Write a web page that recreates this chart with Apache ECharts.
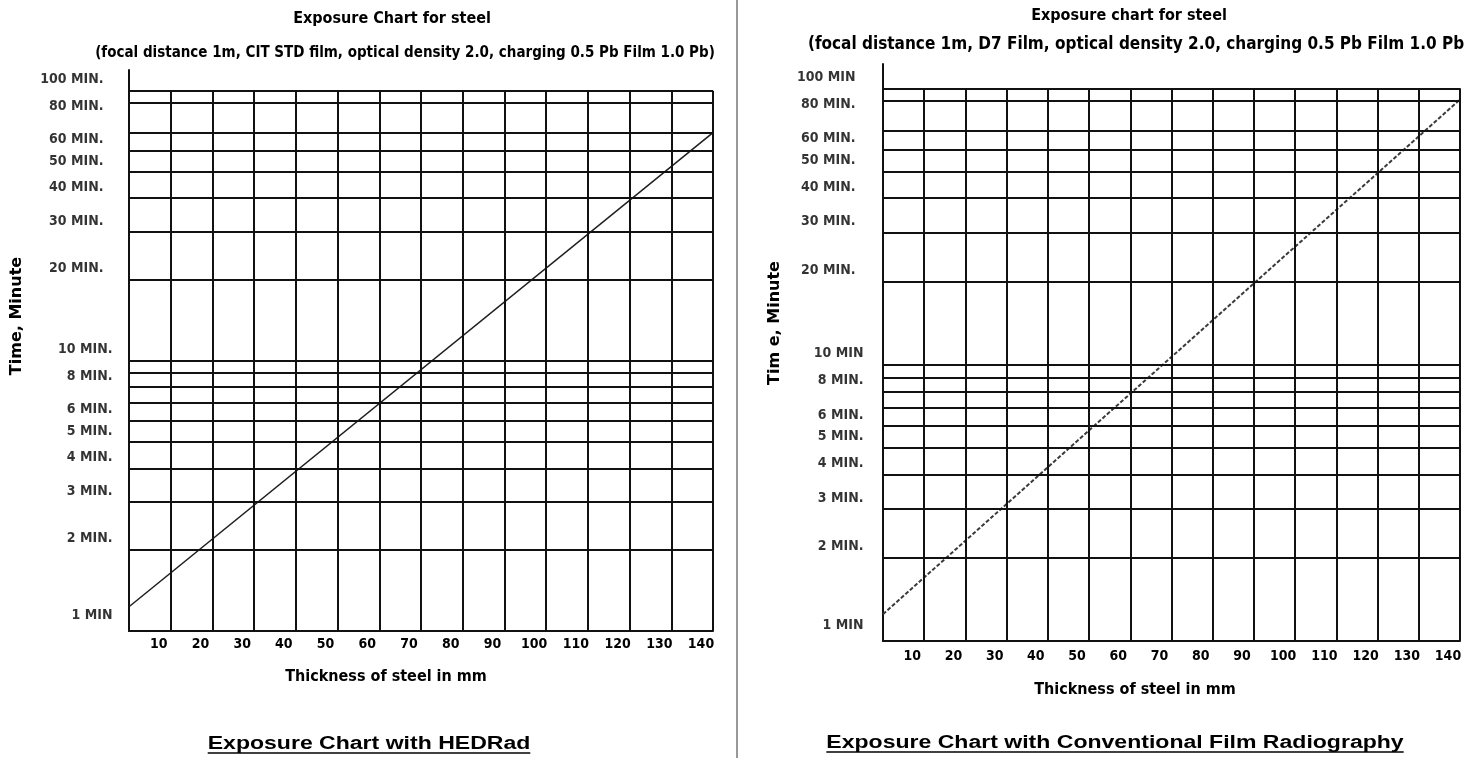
<!DOCTYPE html>
<html>
<head>
<meta charset="utf-8">
<script src="https://cdn.jsdelivr.net/npm/echarts@6/dist/echarts.min.js"></script>
<style>
  html, body { margin: 0; padding: 0; background: #fff; }
  #main { width: 1482px; height: 758px; }
</style>
</head>
<body>
<div id="main"></div>
<script>
// Thickness of steel (mm) at each vertical rule
const thicknessRules = [10, 20, 30, 40, 50, 60, 70, 80, 90, 100, 110, 120, 130, 140];
// Exposure time (min) at each horizontal rule
const minuteRules = [2, 3, 4, 5, 6, 7, 8, 9, 10, 20, 30, 40, 50, 60, 70, 90, 100];
// Time labels on the left of each chart
const minuteLabelValues = [1, 2, 3, 4, 5, 6, 8, 10, 20, 30, 40, 50, 60, 80, 100];
const hedradMinuteLabels = ['1 MIN', '2 MIN.', '3 MIN.', '4 MIN.', '5 MIN.', '6 MIN.', '8 MIN.', '10 MIN.',
  '20 MIN.', '30 MIN.', '40 MIN.', '50 MIN.', '60 MIN.', '80 MIN.', '100 MIN.'];
const filmMinuteLabels = ['1 MIN', '2 MIN.', '3 MIN.', '4 MIN.', '5 MIN.', '6 MIN.', '8 MIN.', '10 MIN',
  '20 MIN.', '30 MIN.', '40 MIN.', '50 MIN.', '60 MIN.', '80 MIN.', '100 MIN'];
// Exposure curves: [thickness mm, time min]
const hedradCurve = [[0, 1.23], [140, 70]];
const filmCurve = [[0, 1.25], [140, 91]];

const FONT = "'DejaVu Sans Condensed', 'Liberation Sans Narrow', sans-serif";
const INK = '#111';

function ruleLines() {
  const out = minuteRules.map(v => ({ yAxis: v }));
  thicknessRules.forEach(t => out.push([{ coord: [t, 1] }, { coord: [t, 100] }]));
  return out;
}

function labelPoints(texts, upperGap, lowerGap) {
  return minuteLabelValues.map((v, i) => ({
    value: [0, v],
    name: texts[i],
    label: {
      distance: v > 10 ? upperGap : lowerGap,
      offset: [0, v === 1 ? -16 : -11]
    }
  }));
}

function xAxisFor(gridIndex, margin) {
  return {
    type: 'value', gridIndex, min: 0, max: 140, interval: 10,
    axisLine: { show: true, lineStyle: { color: INK, width: 2 } },
    axisTick: { show: false },
    splitLine: { show: false },
    axisLabel: {
      color: '#000', fontFamily: FONT, fontWeight: 'bold', fontSize: 14,
      margin, padding: [0, 24, 0, 0],
      formatter: v => (v === 0 ? '' : String(v))
    }
  };
}

function yAxisFor(gridIndex, max) {
  return {
    type: 'log', logBase: 10, gridIndex, min: 1, max,
    axisLine: { show: true, lineStyle: { color: INK, width: 2 } },
    axisTick: { show: false },
    axisLabel: { show: false },
    splitLine: { show: false },
    minorTick: { show: false },
    minorSplitLine: { show: false }
  };
}

function curveSeries(idx, data, lineStyle) {
  return {
    type: 'line', xAxisIndex: idx, yAxisIndex: idx, data,
    symbol: 'none', silent: true, z: 3, lineStyle,
    markLine: {
      silent: true, symbol: 'none', animation: false,
      label: { show: false },
      lineStyle: { color: INK, width: 2, type: 'solid' },
      data: ruleLines()
    }
  };
}

function labelSeries(idx, points) {
  return {
    type: 'scatter', xAxisIndex: idx, yAxisIndex: idx, data: points,
    symbolSize: 1, itemStyle: { color: 'rgba(0,0,0,0)' }, clip: false, silent: true,
    label: {
      show: true, position: 'left', color: '#000',
      fontFamily: FONT, fontWeight: 'bold', fontSize: 14,
      formatter: p => p.name
    }
  };
}

function txt(x, y, text, font, extra) {
  return Object.assign({
    type: 'text', x, y, silent: true,
    style: { text, font, fill: '#000', align: 'center', verticalAlign: 'middle' }
  }, extra || {});
}

function measure(text, font) {
  const c = document.createElement('canvas').getContext('2d');
  c.font = font;
  return c.measureText(text).width;
}

const captionFont = "bold 18px 'Liberation Sans', Arial, sans-serif";
const captionScale = 1.28;
function caption(cx, cy, text) {
  const w = measure(text, captionFont) * captionScale;
  return [
    txt(cx, cy, text, captionFont, { scaleX: captionScale }),
    { type: 'line', silent: true,
      shape: { x1: cx - w / 2, y1: cy + 9, x2: cx + w / 2, y2: cy + 9 },
      style: { stroke: '#000', lineWidth: 1.5 } }
  ];
}

const chart = echarts.init(document.getElementById('main'));
chart.setOption({
  animation: false,
  backgroundColor: '#fff',
  grid: [
    { left: 129, top: 70, width: 584, height: 561 },
    { left: 883, top: 64, width: 577, height: 577 }
  ],
  xAxis: [xAxisFor(0, 6), xAxisFor(1, 8)],
  yAxis: [yAxisFor(0, 119.3), yAxisFor(1, 122.4)],
  series: [
    curveSeries(0, hedradCurve, { color: '#1e1e1e', width: 1.5 }),
    curveSeries(1, filmCurve, { color: '#3a3a3a', width: 2, type: [4, 2] }),
    labelSeries(0, labelPoints(hedradMinuteLabels, 25, 16)),
    labelSeries(1, labelPoints(filmMinuteLabels, 27, 19))
  ],
  graphic: [
    { type: 'line', silent: true, shape: { x1: 737, y1: 0, x2: 737, y2: 758 },
      style: { stroke: '#333', lineWidth: 1 } },
    txt(392, 19, 'Exposure Chart for steel', "bold 16px " + FONT),
    txt(405, 53, '(focal distance 1m, CIT STD film, optical density 2.0, charging 0.5 Pb Film 1.0 Pb)', "bold 15px " + FONT),
    txt(1129, 16, 'Exposure chart for steel', "bold 16px " + FONT),
    txt(1136, 45, '(focal distance 1m, D7 Film, optical density 2.0, charging 0.5 Pb Film 1.0 Pb', "bold 17px " + FONT),
    txt(17, 316, 'Time, Minute', "bold 16px 'DejaVu Sans', sans-serif", { rotation: Math.PI / 2 }),
    txt(775, 323, 'Tim e, Minute', "bold 16px 'DejaVu Sans', sans-serif", { rotation: Math.PI / 2 }),
    txt(386, 677, 'Thickness of steel in mm', "bold 16px " + FONT),
    txt(1135, 690, 'Thickness of steel in mm', "bold 16px " + FONT),
    ...caption(369, 744, 'Exposure Chart with HEDRad'),
    ...caption(1115, 743, 'Exposure Chart with Conventional Film Radiography')
  ]
});
</script>
</body>
</html>
